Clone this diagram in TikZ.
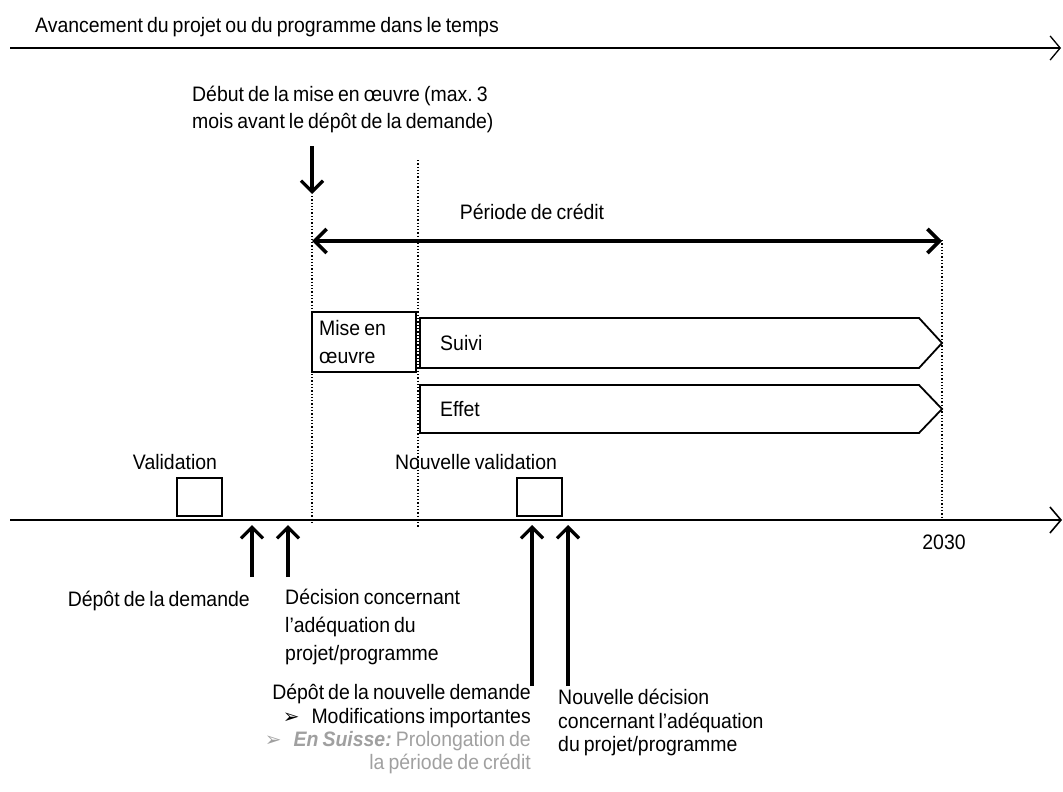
\documentclass[tikz,border=0pt]{standalone}
\usepackage{fontspec}
\setmainfont{Liberation Sans}[FakeStretch=0.93,WordSpace=0.75]
\newfontfamily\symfont{DejaVu Sans}
\usetikzlibrary{arrows.meta}
\frenchspacing

\definecolor{grisclair}{RGB}{160,160,160}

\begin{document}
\begin{tikzpicture}
	[x=1bp,y=-1bp,
	 every node/.style={font=\fontsize{21}{23.5}\selectfont, inner sep=0pt},
	 fleche/.style={line width=3.2bp,-{Straight Barb[length=11bp,width=22bp]}},
	 doublefleche/.style={line width=3.6bp,{Straight Barb[length=12bp,width=24bp]}-{Straight Barb[length=12bp,width=24bp]}},
	 axe/.style={line width=2.2bp,-{Straight Barb[length=11bp,width=26bp,line width=1.6bp]}},
	 pointille/.style={line width=1.3bp,dotted},
	 boite/.style={draw,line width=1.8bp},
	 bande/.style={draw,line width=1.8bp,line join=miter}]

	\useasboundingbox (0,0) rectangle (1063,792);

	%Zeitachse oben
	\node[anchor=west] (titre) at (35,27) {Avancement du projet ou du programme dans le temps};
	\coordinate (hautDebut) at (10,48);
	\coordinate (hautFin) at (1061,48);
	\draw[line width=1.3bp,-{Straight Barb[length=10bp,width=24bp]}] (hautDebut) -- (hautFin);

	%Debut mise en oeuvre
	\node[anchor=north west,align=left,font=\fontsize{21}{27}\selectfont] (debut) at (192,86)
		{Début de la mise en œuvre (max. 3\\mois avant le dépôt de la demande)};
	\coordinate (debutHaut) at (312,146);
	\coordinate (debutBas) at (312,194);
	\draw[fleche] (debutHaut) -- (debutBas);

	%lignes verticales
	\coordinate (v1a) at (312,196);
	\coordinate (v1b) at (312,522);
	\coordinate (v2a) at (418,160);
	\coordinate (v2b) at (418,528);
	\coordinate (v3a) at (942,240);
	\coordinate (v3b) at (942,520);
	\draw[pointille] (v1a) -- (v1b);
	\draw[pointille] (v2a) -- (v2b);
	\draw[pointille] (v3a) -- (v3b);

	%Periode de credit
	\node (periode) at (532,212) {Période de crédit};
	\coordinate (creditA) at (312,241);
	\coordinate (creditB) at (942,241);
	\draw[doublefleche] (creditA) -- (creditB);

	%Mise en oeuvre, Suivi, Effet
	\node[boite,minimum width=104bp,minimum height=60bp] (mise) at (364,342) {};
	\node[anchor=west,align=left,font=\fontsize{21}{28}\selectfont] (misetexte) at (319,342) {Mise en\\œuvre};
	\draw[bande] (420,318) -- (919,318) -- (942,343) -- (919,368) -- (420,368) -- cycle;
	\node[anchor=west] (suivi) at (440,343) {Suivi};
	\draw[bande] (420,385) -- (919,385) -- (942,409) -- (919,433) -- (420,433) -- cycle;
	\node[anchor=west] (effet) at (440,409) {Effet};

	%Validation
	\node (lvalid) at (175,462) {Validation};
	\node[boite,minimum width=45bp,minimum height=38bp] (valid) at (199.5,497) {};
	\node (lnouvvalid) at (476,462) {Nouvelle validation};
	\node[boite,minimum width=45bp,minimum height=38bp] (nouvvalid) at (539.5,497) {};

	%Axe principal
	\coordinate (axeDebut) at (10,520);
	\coordinate (axeFin) at (1062,520);
	\draw[axe] (axeDebut) -- (axeFin);
	\node (annee) at (944,542) {2030};

	%Fleches vers le haut
	\foreach \nom/\px/\py in {fa/252/577, fb/288/577, fc/532/686, fd/568/686}{
		\coordinate (\nom bas) at (\px,\py);
		\coordinate (\nom haut) at (\px,525);
		\draw[fleche] (\nom bas) -- (\nom haut);
	}

	%Textes en bas
	\node[anchor=east] (depot) at (250,601) {Dépôt de la demande};
	\node[anchor=north west,align=left,font=\fontsize{21}{28}\selectfont] (decision) at (285,589)
		{Décision concernant\\l’adéquation du\\projet/programme};
	\node[anchor=north east,align=right] (nouvdepot) at (531,684)
		{Dépôt de la nouvelle demande\\
		 {\symfont\fontsize{20}{23.5}\selectfont ➢}\hspace{12bp}Modifications importantes\\
		 \color{grisclair}{\symfont\fontsize{20}{23.5}\selectfont ➢}\hspace{12bp}\textbf{\textit{En Suisse:}} Prolongation de\\
		 \color{grisclair}la période de crédit};
	\node[anchor=north west,align=left] (nouvdecision) at (558,689)
		{Nouvelle décision\\concernant l’adéquation\\du projet/programme};
\end{tikzpicture}
\end{document}
